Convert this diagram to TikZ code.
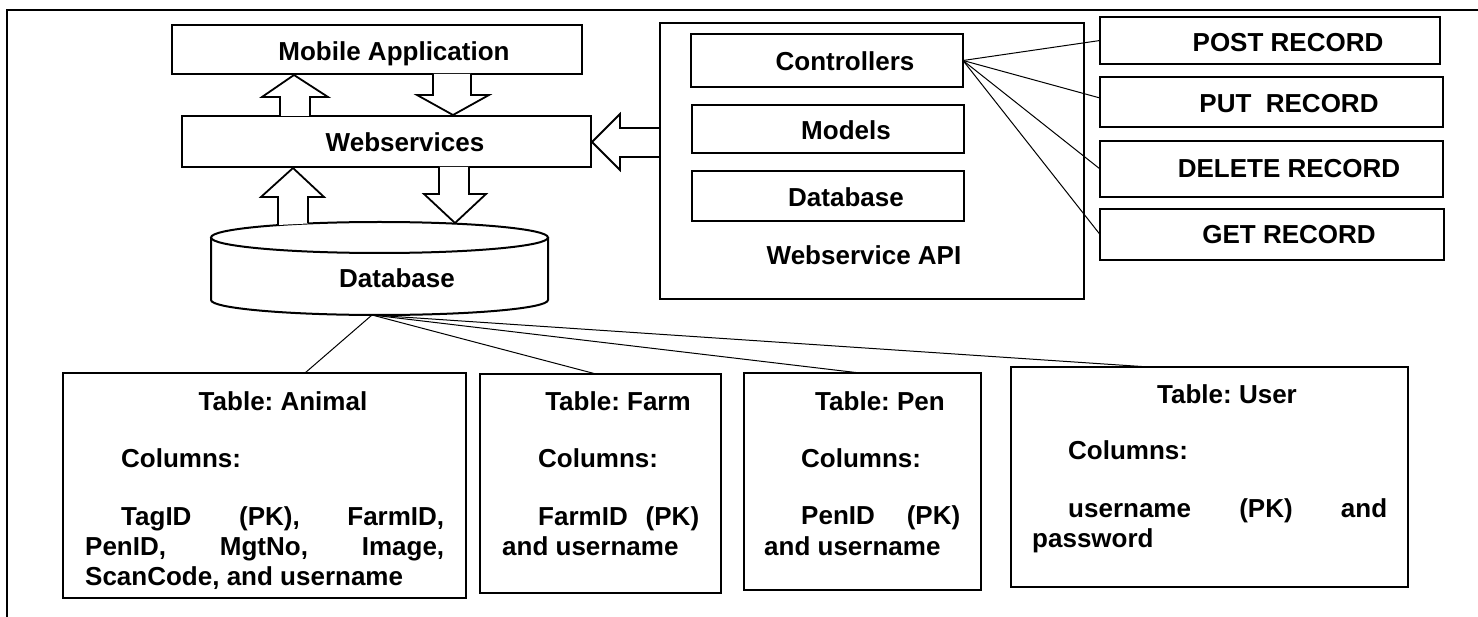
\documentclass[tikz,border=0pt]{standalone}
\usepackage{fontspec}
\setmainfont{Liberation Sans}
\frenchspacing
\begin{document}
\begin{tikzpicture}[x=1pt,y=-1pt,
  box/.style={draw, line width=2.2pt, inner sep=0pt, outer sep=0pt, anchor=north west},
  lbl/.style={inner sep=0pt, font=\bfseries\fontsize{26}{30}\selectfont, anchor=base},
  lbll/.style={lbl, anchor=base west},
  conn/.style={line width=1pt},
  blk/.style={line width=1.8pt, fill=white, line join=miter}]
\useasboundingbox (0,0) rectangle (1478,617);
% outer frame
\draw[line width=2pt] (7,625) -- (7,10) -- (1485,10);

% left column boxes
\node[box, minimum width=410pt, minimum height=49pt] (mobile) at (172,25) {};
\node[box, minimum width=409pt, minimum height=51pt] (websvc) at (182,116) {};
\node[lbl] (tmobile) at (394,61) {Mobile Application};
\node[lbl] (twebsvc) at (405,152) {Webservices};

% database cylinder
\draw[line width=2pt, fill=white] (211,237.5) -- (211,300) arc[start angle=180, end angle=360, x radius=168.5pt, y radius=15pt] -- (548,237.5);
\draw[line width=2pt] (379.5,237.5) ellipse [x radius=168.5pt, y radius=15.5pt];
\node[lbl] (tdb) at (397,288) {Database};
\coordinate (dbfoot) at (372,315);

% block arrows
\draw[blk] (280,116) -- (280,97) -- (262,97) -- (294,75) -- (328,97) -- (310,97) -- (310,116);
\draw[blk] (433,74) -- (433,95) -- (417,95) -- (453,115) -- (489,95) -- (471,95) -- (471,74);
\draw[blk] (278,225) -- (278,197) -- (261,197) -- (293,168) -- (324,197) -- (308,197) -- (308,223.5);
\draw[blk] (439,167) -- (439,194) -- (424,194) -- (455,223) -- (486,194) -- (469,194) -- (469,167);
\draw[blk] (660,128) -- (620,128) -- (620,114) -- (592,142) -- (620,170) -- (620,157) -- (660,157);

% webservice API
\node[box, minimum width=424pt, minimum height=276pt] (api) at (660,23) {};
\node[box, minimum width=272pt, minimum height=53pt] (ctrl) at (691,34) {};
\node[box, minimum width=272pt, minimum height=48pt] (models) at (692,105) {};
\node[box, minimum width=272pt, minimum height=50pt] (dbin) at (692,171) {};
\node[lbl] (tctrl) at (845,71) {Controllers};
\node[lbl] (tmodels) at (846,140) {Models};
\node[lbl] (tdbin) at (846,207) {Database};
\node[lbl] (tapi) at (864,265) {Webservice API};

% record boxes
\node[box, minimum width=340pt, minimum height=47pt] (post) at (1100,17) {};
\node[box, minimum width=343pt, minimum height=50pt] (put) at (1100,77) {};
\node[box, minimum width=343pt, minimum height=56pt] (del) at (1100,141) {};
\node[box, minimum width=344pt, minimum height=51pt] (get) at (1100,209) {};
\node[lbl] (tpost) at (1288,52) {POST RECORD};
\node[lbl] (tput) at (1289,113) {PUT\ \ RECORD};
\node[lbl] (tdel) at (1289,178) {DELETE RECORD};
\node[lbl] (tget) at (1289,244) {GET RECORD};

\draw[conn] (ctrl.east) -- (post.west);
\draw[conn] (ctrl.east) -- ([yshift=4pt]put.west);
\draw[conn] (ctrl.east) -- (del.west);
\draw[conn] (ctrl.east) -- (get.west);

% tables
\node[box, minimum width=403pt, minimum height=225pt] (animal) at (63,373) {};
\node[box, minimum width=241pt, minimum height=219pt] (farm) at (480,374) {};
\node[box, minimum width=237pt, minimum height=217pt] (pen) at (744,373) {};
\node[box, minimum width=397pt, minimum height=220pt] (user) at (1011,367) {};

\coordinate (animaltop) at (305,373);
\coordinate (farmtop) at (596,374);
\coordinate (pentop) at (860,373);
\coordinate (usertop) at (1149,367);
\draw[conn] (dbfoot) -- (animaltop);
\draw[conn] (dbfoot) -- (farmtop);
\draw[conn] (dbfoot) -- (pentop);
\draw[conn] (dbfoot) -- (usertop);

\node[lbl] (ta1) at (283,410) {Table: Animal};
\node[lbll] (ta2) at (121,467) {Columns:};
\node[lbll] (ta3) at (121,525) {\hbox to 323pt{TagID\hfill(PK),\hfill FarmID,}};
\node[lbll] (ta4) at (85,555) {\hbox to 359pt{PenID,\hfill MgtNo,\hfill Image,}};
\node[lbll] (ta5) at (85,585) {ScanCode, and username};

\node[lbl] (tf1) at (618,410) {Table: Farm};
\node[lbll] (tf2) at (538,467) {Columns:};
\node[lbll] (tf3) at (538,525) {\hbox to 161pt{FarmID\hfill(PK)}};
\node[lbll] (tf4) at (502,555) {and username};

\node[lbl] (tp1) at (880,410) {Table: Pen};
\node[lbll] (tp2) at (801,467) {Columns:};
\node[lbll] (tp3) at (801,524) {\hbox to 159pt{PenID\hfill(PK)}};
\node[lbll] (tp4) at (764,555) {and username};

\node[lbl] (tu1) at (1227,403) {Table: User};
\node[lbll] (tu2) at (1068,460) {Columns:};
\node[lbll] (tu3) at (1068,517) {\hbox to 319pt{username\hfill(PK)\hfill and}};
\node[lbll] (tu4) at (1032,547) {password};
\end{tikzpicture}
\end{document}
